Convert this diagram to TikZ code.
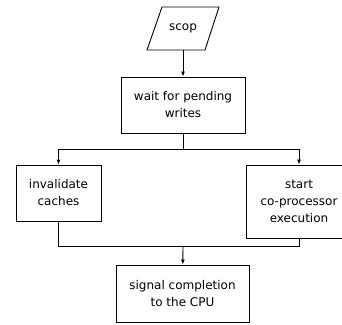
\documentclass[tikz,border=0pt]{standalone}
\usepackage{fontspec}
\setmainfont{DejaVu Sans}
\usetikzlibrary{arrows.meta}

\begin{document}
\begin{tikzpicture}[x=1pt, y=-1pt, line width=0.9pt,
	every node/.style={font=\fontsize{12}{17}\selectfont, align=center, inner sep=0pt},
	stepbox/.style={draw, rectangle},
	flow/.style={-{Latex[length=5pt, width=4pt]}}]
	\useasboundingbox (0,0) rectangle (342,324);
	% input parallelogram
	\node[minimum width=58pt, minimum height=43pt] (scop) at (183,28.5) {scop};
	\draw (scop.center) ++(-36,21.5) -- ++(58,0) -- ++(14,-43) -- ++(-57,0) -- cycle;
	\node[stepbox, minimum width=124pt, minimum height=56pt] (wait) at (183,105) {wait for pending\\writes};
	\node[stepbox, minimum width=85pt, minimum height=56pt] (inval) at (58.5,193) {invalidate\\caches};
	\node[stepbox, minimum width=106pt, minimum height=73pt] (start) at (299,201.5) {start\\co-processor\\execution};
	\node[stepbox, minimum width=133pt, minimum height=57pt] (signal) at (182.5,293.5) {signal completion\\to the CPU};
	\coordinate (split) at (183,149);
	\coordinate (join) at (183,246);
	\draw[flow] (scop) -- (wait);
	\draw (wait) -- (split);
	\draw[flow] (split) -| (inval);
	\draw[flow] (split) -| (start);
	\draw (inval) |- (join);
	\draw (start) |- (join);
	\draw[flow] (join) -- (signal);
\end{tikzpicture}
\end{document}
